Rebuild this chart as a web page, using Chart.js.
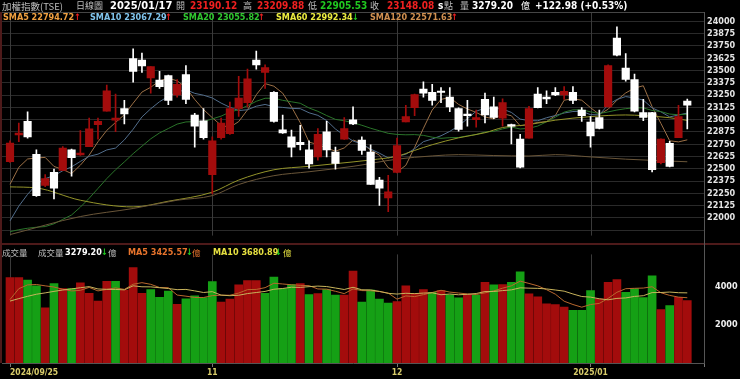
<!DOCTYPE html>
<html>
<head>
<meta charset="utf-8">
<script src="https://cdn.jsdelivr.net/npm/chart.js@4.4.1/dist/chart.umd.min.js"></script>
<style>
  body { margin: 0; background: #000; width: 740px; height: 379px; overflow: hidden; position: relative; }
  canvas { position: absolute; left: 0; }
  #price { top: 0; }
  #vol { top: 246px; }
  .row { position: absolute; left: 0; width: 740px; height: 12px; }
  .row span { position: absolute; top: 0; white-space: nowrap; line-height: 12px;
    font-family: 'DejaVu Sans Condensed', 'DejaVu Sans', sans-serif; font-stretch: condensed;
    font-weight: bold; font-size: 10px; }
  .row span.c { font-family: 'Noto Sans CJK TC', 'Noto Sans CJK SC', sans-serif; font-weight: normal;
    color: #bdbdbd; font-size: 9px; }
  .sm span { font-size: 9px; }
  .line { position: absolute; }
</style>
</head>
<body>
<canvas id="price" width="740" height="244"></canvas>
<canvas id="vol" width="740" height="133"></canvas>

<div class="line" style="left:0;top:12px;width:704px;height:1px;background:#464646"></div>
<div class="line" style="left:0;top:12px;width:2px;height:351px;background:#4e1a1a"></div>
<div class="line" style="left:0;top:243px;width:740px;height:2px;background:#4e1a1a"></div>
<div class="line" style="left:704px;top:12px;width:1px;height:351px;background:#555"></div>

<div class="row" style="top:0">
  <span class="c" style="left:2px;font-size:9.5px">加權指數(TSE)</span>
  <span class="c" style="left:76px">日線圖</span>
  <span style="left:110px;color:#fff;font-size:11px">2025/01/17</span>
  <span class="c" style="left:176px">開</span>
  <span style="left:190px;color:#f02020">23190.12</span>
  <span class="c" style="left:243px">高</span>
  <span style="left:257px;color:#f02020">23209.88</span>
  <span class="c" style="left:308px">低</span>
  <span style="left:320px;color:#20c820">22905.53</span>
  <span class="c" style="left:370px">收</span>
  <span style="left:387px;color:#f02020">23148.08</span>
  <span style="left:438px;color:#fff">s</span>
  <span class="c" style="left:444px">點</span>
  <span class="c" style="left:460px">量</span>
  <span style="left:472px;color:#fff">3279.20</span>
  <span class="c" style="left:521px;color:#fff">億</span>
  <span style="left:535px;color:#fff">+122.98 (+0.53%)</span>
</div>

<div class="row sm" style="top:11px">
  <span style="left:3px;color:#f0a040">SMA5 22794.72</span>
  <span style="left:74px;color:#f02020">↑</span>
  <span style="left:90px;color:#80c4ec">SMA10 23067.29</span>
  <span style="left:165px;color:#f02020">↑</span>
  <span style="left:183px;color:#30c830">SMA20 23055.82</span>
  <span style="left:258px;color:#f02020">↑</span>
  <span style="left:276px;color:#ecec40">SMA60 22992.34</span>
  <span style="left:352px;color:#20c820">↓</span>
  <span style="left:370px;color:#d09050">SMA120 22571.63</span>
  <span style="left:451px;color:#f02020">↑</span>
</div>

<div class="row sm" style="top:246px">
  <span class="c" style="left:2px;font-size:8.5px">成交量</span>
  <span class="c" style="left:38px;font-size:8.5px">成交量</span>
  <span style="left:65px;color:#fff">3279.20</span>
  <span style="left:101px;color:#20c820">↓</span>
  <span class="c" style="left:108px;font-size:8.5px">億</span>
  <span style="left:128px;color:#e8742c">MA5 3425.57</span>
  <span style="left:186px;color:#20c820">↓</span>
  <span class="c" style="left:192px;font-size:8.5px;color:#e8742c">億</span>
  <span style="left:213px;color:#e6e040">MA10 3680.89</span>
  <span style="left:275px;color:#20c820">↓</span>
  <span class="c" style="left:283px;font-size:8.5px;color:#e6e040">億</span>
</div>

<script>
// daily TAIEX candles, 2024/09/25 .. 2025/01/17
const dates = ['2024/09/25','2024/09/26','2024/09/27','2024/09/30','2024/10/01','2024/10/04','2024/10/07','2024/10/08','2024/10/09','2024/10/11',
  '2024/10/14','2024/10/15','2024/10/16','2024/10/17','2024/10/18','2024/10/21','2024/10/22','2024/10/23','2024/10/24','2024/10/25',
  '2024/10/28','2024/10/29','2024/10/30','2024/11/01','2024/11/04','2024/11/05','2024/11/06','2024/11/07','2024/11/08','2024/11/11',
  '2024/11/12','2024/11/13','2024/11/14','2024/11/15','2024/11/18','2024/11/19','2024/11/20','2024/11/21','2024/11/22','2024/11/25',
  '2024/11/26','2024/11/27','2024/11/28','2024/11/29','2024/12/02','2024/12/03','2024/12/04','2024/12/05','2024/12/06','2024/12/09',
  '2024/12/10','2024/12/11','2024/12/12','2024/12/13','2024/12/16','2024/12/17','2024/12/18','2024/12/19','2024/12/20','2024/12/23',
  '2024/12/24','2024/12/25','2024/12/26','2024/12/27','2024/12/30','2024/12/31','2025/01/02','2025/01/03','2025/01/06','2025/01/07',
  '2025/01/08','2025/01/09','2025/01/10','2025/01/13','2025/01/14','2025/01/15','2025/01/16','2025/01/17'];

const opens = [22572,22844,22982,22647,22332,22463,22483,22693,22641,22726,
  22949,23087,22995,23114,23623,23606,23426,23403,23449,23252,
  23459,23048,22989,22440,22818,22858,23114,23173,23606,23481,
  23278,22897,22825,22769,22693,22621,22877,22670,22802,22999,
  22792,22670,22385,22204,22463,22976,23123,23311,23278,23291,
  23229,23114,23058,22999,23206,23130,23015,22949,22802,22812,
  23261,23229,23278,23252,23278,23097,22976,23022,23130,23830,
  23524,23409,23071,23071,22562,22759,22818,23190.12];
const highs = [22785,22966,23081,22693,22440,22496,22726,22700,22890,23015,
  23015,23353,23261,23196,23721,23679,23541,23491,23455,23409,
  23550,23064,23114,22825,23015,23179,23442,23514,23698,23557,
  23285,23048,22894,22943,22785,22910,22982,22720,23022,23130,
  22825,22743,22414,22434,22812,23147,23260,23386,23360,23327,
  23327,23120,23196,23097,23271,23229,23212,22955,22851,23137,
  23327,23294,23327,23337,23337,23123,23032,23097,23557,23944,
  23672,23465,23206,23075,22805,22779,23147,23209.88];
const lows = [22565,22775,22812,22220,22319,22194,22480,22424,22635,22726,
  22802,23087,22877,22956,23383,23481,23271,23317,23153,23229,
  23163,22720,22802,22243,22802,22851,23032,23130,23514,23317,
  22975,22860,22621,22693,22506,22588,22621,22496,22800,22950,
  22647,22340,22128,22063,22457,22976,23041,23229,23147,23173,
  23081,22884,22933,22923,22966,23009,22933,22752,22510,22812,
  23120,23163,23245,23206,23163,22982,22720,22905,23130,23650,
  23393,23080,22989,22467,22549,22520,22818,22905.53];
const closes = [22762,22864,22825,22227,22401,22302,22710,22614,22660,22907,
  22982,23294,23015,23058,23491,23547,23541,23337,23196,23360,
  23206,22933,22818,22785,22966,23114,23219,23416,23557,23531,
  22982,22864,22720,22746,22549,22851,22693,22555,22910,22956,
  22687,22342,22302,22266,22736,23031,23255,23271,23196,23278,
  23130,22900,23041,23022,23048,23022,23173,22933,22516,23114,
  23123,23212,23252,23288,23196,23041,22834,22910,23550,23656,
  23409,23087,23022,22490,22802,22523,23031,23148.08];

// 成交量 (億)
const volumes = [4480,4480,4350,4050,2890,4170,3900,3900,4210,3660,
  3250,4290,4290,3830,5010,3660,3860,3450,3780,3080,
  3370,3520,3440,4270,3200,3350,4100,4330,4330,3660,
  4510,3910,4120,4170,3590,3640,3860,3560,3560,4820,
  3200,3830,3350,3150,3220,4050,3660,3860,3710,3800,
  3580,3420,3610,3560,4240,4100,4120,4240,4790,3630,
  3470,3110,3060,2940,2770,2770,3800,3370,4240,4380,
  3710,3900,3440,4580,2810,3010,3450,3279.2];

// moving averages as shown on the chart
const sma5 = [22342,22515,22600,22610,22616,22524,22493,22451,22537,22639,
  22775,22891,22972,23051,23168,23281,23330,23395,23422,23396,
  23328,23206,23103,23020,22942,22923,22980,23100,23254,23367,
  23341,23270,23131,22969,22772,22746,22712,22679,22712,22793,
  22760,22690,22639,22511,22467,22535,22718,22912,23098,23206,
  23226,23155,23109,23074,23028,23007,23061,23040,22938,22952,
  22972,22980,23043,23198,23214,23198,23122,23054,23106,23198,
  23272,23322,23345,23133,22962,22785,22774,22794.72];
const sma10 = [21970,22120,22240,22340,22400,22430,22480,22520,22575,22627,
  22649,22692,22711,22794,22903,23028,23111,23183,23237,23282,
  23305,23268,23249,23221,23169,23126,23093,23101,23137,23155,
  23132,23125,23115,23112,23070,23044,22991,22905,22840,22783,
  22753,22701,22659,22611,22630,22648,22704,22776,22804,22836,
  22881,22937,23010,23086,23117,23116,23108,23074,23006,22990,
  22989,23020,23042,23068,23083,23085,23051,23049,23152,23206,
  23235,23222,23199,23120,23080,23028,23048,23067.29];
const sma20 = [21860,21880,21895,21905,21912,21940,21985,22030,22110,22200,
  22300,22400,22490,22570,22654,22730,22805,22865,22910,22955,
  22977,22980,22980,23008,23036,23077,23102,23142,23187,23218,
  23218,23197,23182,23167,23119,23085,23042,23003,22989,22969,
  22943,22913,22887,22861,22850,22846,22848,22840,22822,22810,
  22817,22819,22835,22849,22874,22882,22906,22925,22905,22913,
  22935,22979,23026,23077,23100,23101,23080,23062,23079,23098,
  23112,23121,23120,23094,23082,23057,23050,23055.82];
// [candle index, value]
const sma60 = [[0,22316],[3,22305],[8,22180],[14,22112],[18,22170],[23,22262],[26,22385],[30,22490],
  [34,22525],[39,22570],[41,22590],[44,22628],[46,22687],[48,22745],[51,22815],[54,22867],[56,22920],
  [59,22950],[62,22995],[66,23031],[70,23048],[72,23041],[75,23020],[77,22992.34]];
const sma120 = [[0,21830],[8,22014],[14,22096],[19,22180],[23,22227],[26,22340],[30,22430],[34,22470],
  [39,22525],[44,22598],[48,22631],[51,22644],[55,22635],[59,22630],[62,22644],[66,22621],[70,22598],
  [74,22582],[77,22571.63]];

const volMa5 = [3330,3900,4100,4120,4050,3988,3872,3782,3814,3968,
  3784,3862,3940,3864,4134,4216,4130,3962,3952,3566,
  3508,3440,3438,3536,3560,3556,3672,3850,3862,3954,
  4186,4148,4106,4074,4060,3886,3876,3764,3642,3888,
  3800,3794,3752,3670,3350,3520,3486,3588,3700,3816,
  3722,3674,3624,3594,3682,3786,3926,4052,4298,4176,
  4050,3848,3612,3242,3070,2930,3068,3130,3390,3712,
  3900,3920,3934,4002,3688,3548,3458,3425.57];
const volMa10 = [3250,3380,3500,3610,3680,3760,3830,3890,3950,4009,
  3886,3867,3861,3839,4051,4000,3996,3951,3908,3850,
  3862,3785,3700,3744,3563,3532,3556,3644,3699,3757,
  3871,3910,3978,3968,4007,4036,4012,3935,3858,3974,
  3843,3835,3758,3656,3619,3660,3640,3670,3685,3583,
  3621,3580,3606,3647,3749,3754,3800,3838,3946,3929,
  3918,3887,3832,3770,3623,3490,3458,3371,3316,3391,
  3415,3494,3532,3696,3700,3724,3689,3680.89];

const priceTicks = [21875,22000,22125,22250,22375,22500,22625,22750,22875,23000,
  23125,23250,23375,23500,23625,23750,23875,24000];
const volTicks = [2000, 4000];
const monthDates = ['2024/09/25', '2024/11/01', '2024/12/02', '2025/01/02'];
const monthLabels = ['2024/09/25', '11', '12', '2025/01'];

const FONT = "'DejaVu Sans Condensed', 'DejaVu Sans', sans-serif";
const X_MIN = -0.91, X_MAX = 78.9;
const monthIdx = monthDates.map(d => dates.indexOf(d));

const RED = '#a30c0c', WHITE = '#ffffff', GREEN = '#15a015';
const candleColors = closes.map((c, i) => c >= opens[i] ? RED : WHITE);
const volColors = closes.map((c, i) => (i === 0 || c >= closes[i - 1]) ? RED : GREEN);

const byIndex = arr => arr.map((v, i) => ({ x: i, y: v }));
const fromPairs = arr => arr.map(([i, v]) => ({ x: i, y: v }));

function maLine(data, color, smooth) {
  return {
    type: 'line', data, borderColor: color, borderWidth: 1, pointRadius: 0,
    tension: 0, cubicInterpolationMode: smooth ? 'monotone' : 'default', order: 5
  };
}

// vertical separators at the first day of each month
const monthLines = {
  id: 'monthLines',
  beforeDatasetsDraw(chart) {
    const { ctx, chartArea: a, scales: { x } } = chart;
    ctx.save();
    ctx.strokeStyle = '#3a3a3a';
    ctx.lineWidth = 1;
    monthIdx.forEach(i => {
      const px = Math.round(x.getPixelForValue(i)) + 0.5;
      ctx.beginPath();
      ctx.moveTo(px, a.top);
      ctx.lineTo(px, a.bottom);
      ctx.stroke();
    });
    ctx.restore();
  }
};

const common = {
  responsive: false,
  animation: false,
  devicePixelRatio: 1,
  events: [],
  plugins: { legend: { display: false }, tooltip: { enabled: false } }
};

// price panel
new Chart(document.getElementById('price'), {
  type: 'bar',
  plugins: [monthLines],
  data: {
    datasets: [
      maLine(fromPairs(sma120), '#6a5639', true),
      maLine(fromPairs(sma60), '#94942a', true),
      maLine(byIndex(sma20), '#2a742a'),
      maLine(byIndex(sma10), '#526e8c'),
      maLine(byIndex(sma5), '#9c7046'),
      {
        data: lows.map((l, i) => ({ x: i, y: [l, highs[i]] })),
        backgroundColor: candleColors, barThickness: 1, grouped: false, order: 2
      },
      {
        data: opens.map((o, i) => ({ x: i, y: [o, closes[i]] })),
        backgroundColor: candleColors, barThickness: 7.5, minBarLength: 1, grouped: false, order: 1
      }
    ]
  },
  options: {
    ...common,
    layout: { padding: { left: 2, top: 12, right: 0, bottom: 1 } },
    scales: {
      x: {
        type: 'linear', min: X_MIN, max: X_MAX, offset: false,
        afterBuildTicks: s => { s.ticks = monthIdx.map(v => ({ value: v })); },
        afterFit: s => { s.height = 0; },
        ticks: { display: false, autoSkip: false },
        grid: { display: false },
        border: { display: false }
      },
      y: {
        position: 'right', min: 21820, max: 24096, beginAtZero: false,
        afterBuildTicks: s => { s.ticks = priceTicks.map(v => ({ value: v })); },
        afterFit: s => { s.width = 36; },
        ticks: {
          autoSkip: false, color: '#e4e4e4', padding: 3,
          font: { family: FONT, size: 9, weight: 'bold' },
          callback: v => v >= 22000 ? String(v) : ''
        },
        grid: { color: '#2a2a2a', drawTicks: false },
        border: { color: '#555' }
      }
    }
  }
});

// volume panel
new Chart(document.getElementById('vol'), {
  type: 'bar',
  plugins: [monthLines],
  data: {
    datasets: [
      { ...maLine(byIndex(volMa10), '#c8b45c'), order: 0 },
      { ...maLine(byIndex(volMa5), '#b8682e'), order: 0 },
      { data: byIndex(volumes), backgroundColor: volColors, barThickness: 8, grouped: false, order: 1 }
    ]
  },
  options: {
    ...common,
    layout: { padding: { left: 2, top: 6, right: 0, bottom: 0 } },
    scales: {
      x: {
        type: 'linear', min: X_MIN, max: X_MAX, offset: false,
        afterBuildTicks: s => { s.ticks = [...monthIdx, X_MAX].map(v => ({ value: v })); },
        afterFit: s => { s.height = 16; },
        ticks: {
          autoSkip: false, maxRotation: 0, align: 'inner', padding: 1,
          color: '#d8cc6a', font: { family: FONT, size: 8.5, weight: 'bold' },
          callback: (v, i) => monthLabels[i] ?? ''
        },
        grid: { drawOnChartArea: false, offset: false, tickLength: 4, tickColor: '#777' },
        border: { color: '#555' }
      },
      y: {
        position: 'right', min: 0, max: 5700,
        afterBuildTicks: s => { s.ticks = volTicks.map(v => ({ value: v })); },
        afterFit: s => { s.width = 36; },
        ticks: {
          autoSkip: false, color: '#f0f0f0', padding: 3,
          font: { family: FONT, size: 9, weight: 'bold' },
          callback: v => String(v)
        },
        grid: { display: false },
        border: { color: '#555' }
      }
    }
  }
});
</script>
</body>
</html>
